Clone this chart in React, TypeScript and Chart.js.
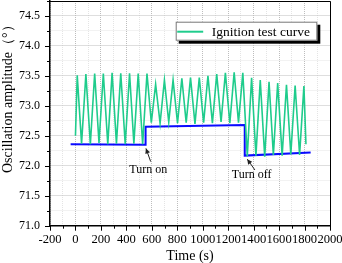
import React, { useEffect, useRef } from 'react';
import { Chart, registerables } from 'chart.js';
Chart.register(...registerables);

const FONT = "'Liberation Serif', 'Times New Roman', serif";

// Ignition test curve (time in s, amplitude in degrees)
const curveTimes = [0, 14, 48, 82, 117, 151, 185, 219, 254, 288, 322, 356, 391, 425, 459, 493, 528, 562, 596, 630, 665, 699, 733, 767, 802, 836, 870, 904, 939, 973, 1007, 1041, 1076, 1110, 1144, 1178, 1213, 1247, 1281, 1315, 1350, 1384, 1418, 1452, 1487, 1521, 1555, 1589, 1624, 1658, 1692, 1726, 1761, 1795, 1811];
const curveValues = [72.5, 73.51, 72.37, 73.53, 72.36, 73.54, 72.38, 73.54, 72.36, 73.55, 72.37, 73.545, 72.36, 73.545, 72.37, 73.54, 72.36, 73.54, 72.72, 73.36, 72.71, 73.43, 72.73, 73.43, 72.71, 73.46, 72.72, 73.47, 72.70, 73.47, 72.72, 73.50, 72.71, 73.53, 72.73, 73.55, 72.71, 73.56, 72.72, 73.55, 72.16, 73.47, 72.17, 73.43, 72.15, 73.40, 72.18, 73.38, 72.17, 73.35, 72.19, 73.34, 72.18, 73.33, 72.36];

// Blue baseline (step) line
const stepTimes = [-38, 551, 551, 1330, 1330, 1848];
const stepValues = [72.36, 72.35, 72.65, 72.68, 72.17, 72.22];

// Axis ranges / ticks
const xMin = -200, xMax = 2000, xMinorStep = 100, xMajorStep = 200;
const yMin = 71, yMax = 74.75, yMinorStep = 0.25, yMajorStep = 0.5;

// Annotations
const annotationTexts = ['Turn on', 'Turn off'];
const annotationTextPos = [[572, 71.94], [1384, 71.845]];
const annotationArrowTips = [[554, 72.29], [1350, 72.11]];
const annotationArrowTails = [[591, 72.07], [1410, 71.93]];

const legendLabel = 'Ignition test curve';
const yTitle = 'Oscillation amplitude（°）';
const xTitle = 'Time (s)';

const GREEN = '#1fcc8c';
const BLUE = '#0a0aff';

const isMult = (v: number, step: number) => Math.abs(v / step - Math.round(v / step)) < 1e-6;

const decorPlugin = {
  id: 'decor',
  afterDraw(chart: any) {
    const { ctx, chartArea: ca, scales } = chart;
    const xs = scales.x, ys = scales.y;
    ctx.save();
    // frame top/right
    ctx.strokeStyle = '#000';
    ctx.lineWidth = 1;
    ctx.beginPath();
    ctx.moveTo(ca.left, ca.top + 0.5);
    ctx.lineTo(ca.right + 0.5, ca.top + 0.5);
    ctx.lineTo(ca.right + 0.5, ca.bottom);
    ctx.stroke();
    // tick marks
    ctx.beginPath();
    for (let v = xMin; v <= xMax + 1e-9; v += xMinorStep) {
      const px = Math.round(xs.getPixelForValue(v)) + 0.5;
      const len = isMult(v, xMajorStep) ? 5 : 3;
      ctx.moveTo(px, ca.bottom);
      ctx.lineTo(px, ca.bottom + len);
    }
    for (let v = yMin; v <= yMax + 1e-9; v += yMinorStep) {
      const py = Math.round(ys.getPixelForValue(v)) + 0.5;
      const len = isMult(v, yMajorStep) ? 5 : 3;
      ctx.moveTo(ca.left, py);
      ctx.lineTo(ca.left - len, py);
    }
    ctx.stroke();

    // y axis title
    ctx.save();
    ctx.translate(ca.left - 42, ca.bottom - 52.7);
    ctx.rotate(-Math.PI / 2);
    ctx.fillStyle = '#000';
    ctx.font = `14px ${FONT}`;
    ctx.textAlign = 'left';
    ctx.textBaseline = 'middle';
    ctx.fillText(yTitle, 0, 0);
    ctx.restore();

    // legend
    const bx = ca.right - 154.3, by = ca.top + 20.7, bw = 141.6, bh = 19;
    ctx.fillStyle = '#000';
    ctx.fillRect(bx + 3, by + 3, bw, bh);
    ctx.fillStyle = '#fff';
    ctx.fillRect(bx, by, bw, bh);
    ctx.strokeStyle = '#777';
    ctx.lineWidth = 1;
    ctx.strokeRect(bx + 0.5, by + 0.5, bw - 1, bh - 1);
    ctx.strokeStyle = GREEN;
    ctx.lineWidth = 2;
    ctx.beginPath();
    ctx.moveTo(bx + 1.5, by + bh / 2 + 0.5);
    ctx.lineTo(bx + 27.5, by + bh / 2 + 0.5);
    ctx.stroke();
    ctx.fillStyle = '#000';
    ctx.font = `13.5px ${FONT}`;
    ctx.textBaseline = 'middle';
    ctx.textAlign = 'left';
    ctx.fillText(legendLabel, bx + 36, by + bh / 2 + 1);

    // annotations
    ctx.font = `12px ${FONT}`;
    ctx.textAlign = 'center';
    annotationTexts.forEach((t, i) => {
      const tx = xs.getPixelForValue(annotationTextPos[i][0]);
      const ty = ys.getPixelForValue(annotationTextPos[i][1]);
      ctx.fillStyle = '#000';
      ctx.fillText(t, tx, ty);
      const x1 = xs.getPixelForValue(annotationArrowTails[i][0]);
      const y1 = ys.getPixelForValue(annotationArrowTails[i][1]);
      const x2 = xs.getPixelForValue(annotationArrowTips[i][0]);
      const y2 = ys.getPixelForValue(annotationArrowTips[i][1]);
      ctx.strokeStyle = '#222';
      ctx.lineWidth = 1;
      ctx.beginPath();
      ctx.moveTo(x1, y1);
      ctx.lineTo(x2, y2);
      ctx.stroke();
      const ang = Math.atan2(y2 - y1, x2 - x1);
      const hl = 5, hw = 2.5;
      ctx.beginPath();
      ctx.moveTo(x2, y2);
      ctx.lineTo(x2 - hl * Math.cos(ang) + hw * Math.sin(ang), y2 - hl * Math.sin(ang) - hw * Math.cos(ang));
      ctx.lineTo(x2 - hl * Math.cos(ang) - hw * Math.sin(ang), y2 - hl * Math.sin(ang) + hw * Math.cos(ang));
      ctx.closePath();
      ctx.fillStyle = '#222';
      ctx.fill();
    });
    ctx.restore();
  },
};

export default function App() {
  const ref = useRef<HTMLCanvasElement | null>(null);
  useEffect(() => {
    document.body.style.margin = '0';
    if (!ref.current) return;
    const chart = new Chart(ref.current, {
      type: 'line',
      data: {
        datasets: [
          {
            label: legendLabel,
            data: curveTimes.map((t, i) => ({ x: t, y: curveValues[i] })),
            borderColor: GREEN,
            borderWidth: 1.6,
            pointRadius: 0,
            tension: 0,
            fill: false,
          },
          {
            label: 'baseline',
            data: stepTimes.map((t, i) => ({ x: t, y: stepValues[i] })),
            borderColor: BLUE,
            borderWidth: 2,
            pointRadius: 0,
            tension: 0,
            fill: false,
          },
        ],
      },
      options: {
        responsive: false,
        animation: false,
        devicePixelRatio: 1,
        layout: { padding: { left: 0, top: 1, right: 12, bottom: 0 } },
        plugins: { legend: { display: false }, tooltip: { enabled: false } },
        scales: {
          x: {
            type: 'linear',
            min: xMin,
            max: xMax,
            afterFit: (s: any) => { s.height = 37.3; s.paddingLeft = 0; s.paddingRight = 0; },
            ticks: {
              stepSize: xMinorStep,
              autoSkip: false,
              maxRotation: 0,
              padding: 6,
              color: '#000',
              font: { family: FONT, size: 12.6 },
              callback: (v: any) => (isMult(Number(v), xMajorStep) ? String(v) : ''),
            },
            grid: {
              drawTicks: false,
              lineWidth: 1,
              color: (c: any) => (c.tick && isMult(c.tick.value, xMajorStep) ? '#bdbdbd' : '#e4e4e4'),
            },
            border: { display: true, color: '#000', width: 1.5, dash: [1, 1] },
            title: {
              display: true,
              text: xTitle,
              color: '#000',
              font: { family: FONT, size: 14, lineHeight: 1 },
              padding: { top: 0, bottom: 0 },
            },
          },
          y: {
            type: 'linear',
            min: yMin,
            max: yMax,
            afterFit: (s: any) => { s.width = 50; s.paddingTop = 0; s.paddingBottom = 0; },
            ticks: {
              stepSize: yMinorStep,
              autoSkip: false,
              padding: 10,
              color: '#000',
              font: { family: FONT, size: 12 },
              callback: (v: any) => (isMult(Number(v), yMajorStep) ? Number(v).toFixed(1) : ''),
            },
            grid: {
              drawTicks: false,
              lineWidth: 1,
              color: (c: any) => (c.tick && isMult(c.tick.value, yMajorStep) ? '#bdbdbd' : '#e4e4e4'),
            },
            border: { display: true, color: '#000', width: 1.5, dash: [1, 1] },
            title: { display: false },
          },
        },
      },
      plugins: [decorPlugin],
    } as any);
    return () => chart.destroy();
  }, []);
  return (
    <div style={{ width: 342, height: 263 }}>
      <canvas ref={ref} width={342} height={263} style={{ display: 'block' }} />
    </div>
  );
}
